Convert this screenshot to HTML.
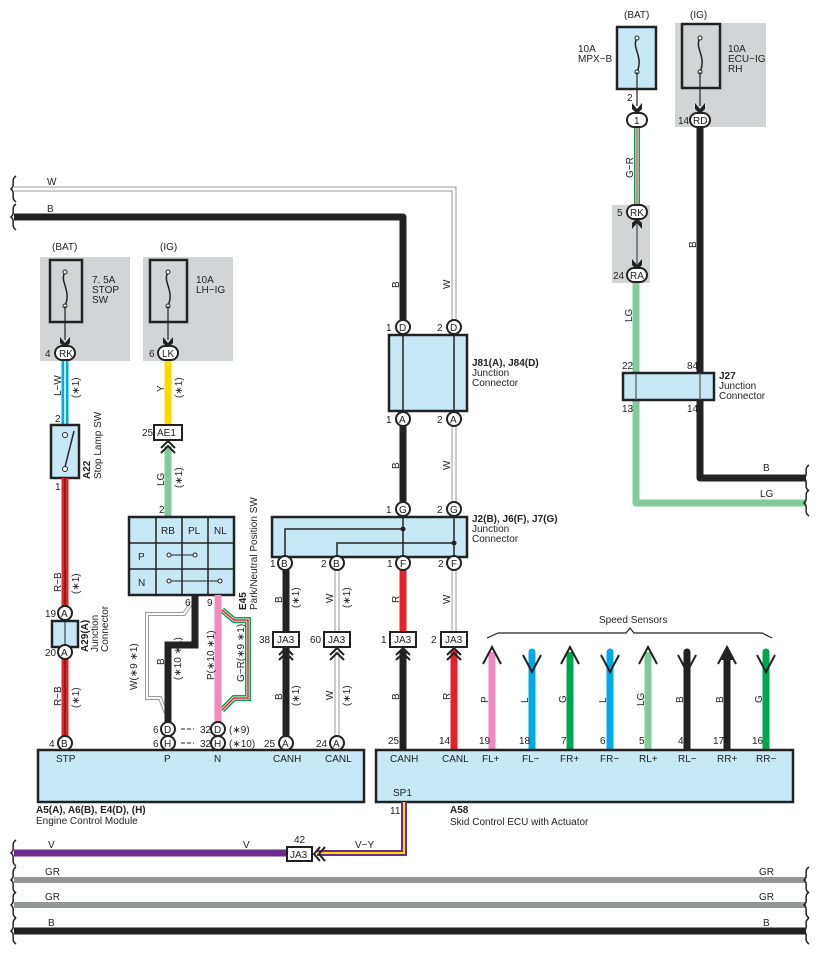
<!DOCTYPE html>
<html><head><meta charset="utf-8"><style>
html,body{margin:0;padding:0;background:#fff}
svg{display:block;font-family:"Liberation Sans",sans-serif}
text{font-size:10px;fill:#222}
.b{font-weight:bold}
.bx{fill:#c6e8f7;stroke:#222;stroke-width:2.5}
.pc{fill:#fff;stroke:#222;stroke-width:2}
.gy{fill:#d3d4d6}
</style></head><body>
<svg width="817" height="954" viewBox="0 0 817 954" xmlns="http://www.w3.org/2000/svg">
<defs>
<g id="brace"><path d="M3,-13 C-3,-9 3,-4 -2,0 C3,4 -3,9 3,13" fill="none" stroke="#222" stroke-width="1.5"/></g>
<g id="chev"><path d="M-7,4 L0,-3 L7,4 M-7,9 L0,2 L7,9" fill="none" stroke="#222" stroke-width="2"/></g>
</defs>

<path d="M14,189 H454 V327" fill="none" stroke="#999" stroke-width="5"/>
<path d="M14,189 H454 V327" fill="none" stroke="#fff" stroke-width="3"/>
<path d="M14,217 H403 V327" fill="none" stroke="#222" stroke-width="7" stroke-linejoin="round"/>
<use href="#brace" x="13" y="189"/><use href="#brace" x="13" y="217"/>
<text x="47" y="185">W</text><text x="47" y="212">B</text>

<rect class="gy" x="40" y="257" width="90" height="104"/>
<rect x="50" y="260" width="32" height="62" fill="none" stroke="#222" stroke-width="2.5"/>
<path d="M65,272 C59,282 72,290 65,306" fill="none" stroke="#222" stroke-width="1.5"/>
<circle cx="65" cy="272" r="2" fill="#fff" stroke="#222"/><circle cx="65" cy="306" r="2" fill="#fff" stroke="#222"/>
<line x1="65" y1="306" x2="65" y2="340" stroke="#222" stroke-width="1.2"/>
<path d="M60,337 L65,343 L70,337 L70,343 L65,348 L60,343Z" fill="#222"/>
<text x="52" y="250">(BAT)</text>
<text x="92" y="283">7. 5A</text><text x="92" y="293">STOP</text><text x="92" y="303">SW</text>
<rect class="gy" x="143" y="257" width="90" height="104"/>
<rect x="150" y="260" width="37" height="62" fill="none" stroke="#222" stroke-width="2.5"/>
<path d="M168,272 C162,282 175,290 168,306" fill="none" stroke="#222" stroke-width="1.5"/>
<circle cx="168" cy="272" r="2" fill="#fff" stroke="#222"/><circle cx="168" cy="306" r="2" fill="#fff" stroke="#222"/>
<line x1="168" y1="306" x2="168" y2="340" stroke="#222" stroke-width="1.2"/>
<path d="M163,337 L168,343 L173,337 L173,343 L168,348 L163,343Z" fill="#222"/>
<text x="160" y="250">(IG)</text>
<text x="196" y="283">10A</text><text x="196" y="293">LH−IG</text>

<line x1="65" y1="360" x2="65" y2="425" stroke="#00a9e8" stroke-width="7"/>
<line x1="65" y1="360" x2="65" y2="425" stroke="#fff" stroke-width="1.5"/>
<rect x="55" y="346" width="20" height="14" rx="7" class="pc"/><text x="59" y="357">RK</text><text x="45" y="357">4</text>
<text transform="translate(61,396) rotate(-90)">L−W</text><text transform="translate(79,398) rotate(-90)">(∗1)</text>
<text x="55" y="422">2</text>
<rect class="bx" x="51" y="425" width="28" height="53"/>
<circle cx="65" cy="435" r="2.5" fill="#fff" stroke="#222"/><circle cx="65" cy="469" r="2.5" fill="#fff" stroke="#222"/>
<line x1="65" y1="467" x2="74" y2="431" stroke="#222" stroke-width="1.5"/>
<text class="b" transform="translate(90,479) rotate(-90)">A22</text><text transform="translate(101,479) rotate(-90)">Stop Lamp SW</text>
<line x1="65" y1="478" x2="65" y2="743" stroke="#e8202a" stroke-width="7"/>
<line x1="65" y1="478" x2="65" y2="743" stroke="#222" stroke-width="1"/>
<text x="55" y="490">1</text>
<text transform="translate(61,592) rotate(-90)">R−B</text><text transform="translate(79,594) rotate(-90)">(∗1)</text>
<text transform="translate(61,706) rotate(-90)">R−B</text><text transform="translate(79,708) rotate(-90)">(∗1)</text>
<rect class="bx" x="52" y="621" width="26" height="26"/><line x1="65" y1="621" x2="65" y2="647" stroke="#222"/>
<circle class="pc" cx="65" cy="613" r="7"/><text x="61" y="617">A</text><text x="45" y="617">19</text>
<circle class="pc" cx="65" cy="652" r="7"/><text x="61" y="656">A</text><text x="45" y="656">20</text>
<text class="b" transform="translate(88,652) rotate(-90)">A29(A)</text><text transform="translate(98,652) rotate(-90)">Junction</text><text transform="translate(108,652) rotate(-90)">Connector</text>

<line x1="168" y1="360" x2="168" y2="425" stroke="#ffd800" stroke-width="7"/>
<rect x="158" y="346" width="20" height="14" rx="7" class="pc"/><text x="162" y="357">LK</text><text x="149" y="357">6</text>
<text transform="translate(164,392) rotate(-90)">Y</text><text transform="translate(182,398) rotate(-90)">(∗1)</text>
<line x1="168" y1="446" x2="168" y2="517" stroke="#7fcb9b" stroke-width="7"/>
<rect x="154" y="425" width="28" height="15" fill="#fff" stroke="#222" stroke-width="2"/><text x="157" y="436">AE1</text><text x="142" y="436">25</text>
<use href="#chev" x="168" y="444"/>
<text transform="translate(164,486) rotate(-90)">LG</text><text transform="translate(182,488) rotate(-90)">(∗1)</text>
<text x="159" y="513">2</text>

<rect class="bx" x="129" y="517" width="105" height="78"/>
<path d="M156,517V595M182,517V595M208,517V595M129,543H234M129,569H234" stroke="#222" stroke-width="1.5"/>
<text x="161" y="534">RB</text><text x="188" y="534">PL</text><text x="214" y="534">NL</text>
<text x="138" y="560">P</text><text x="138" y="586">N</text>
<line x1="169" y1="555" x2="195" y2="555" stroke="#222"/><circle cx="169" cy="555" r="2" fill="#fff" stroke="#222"/><circle cx="195" cy="555" r="2" fill="#fff" stroke="#222"/>
<line x1="169" y1="581" x2="220" y2="581" stroke="#222"/><circle cx="169" cy="581" r="2" fill="#fff" stroke="#222"/><circle cx="220" cy="581" r="2" fill="#fff" stroke="#222"/>
<text class="b" transform="translate(246,610) rotate(-90)">E45</text><text transform="translate(257,610) rotate(-90)">Park/Neutral Position SW</text>
<path d="M192,602 L184,614 H147 V698 H160 L168,718" fill="none" stroke="#999" stroke-width="4"/>
<path d="M192,602 L184,614 H147 V698 H160 L168,718" fill="none" stroke="#fff" stroke-width="2"/>
<path d="M195,595 V645 H168 V728" fill="none" stroke="#222" stroke-width="7"/>
<path d="M222,610 L234,620 H248 V698 H234 L222,710" fill="none" stroke="#00a651" stroke-width="6"/>
<path d="M222,610 L234,620 H248 V698 H234 L222,710" fill="none" stroke="#fff" stroke-width="3"/>
<path d="M222,610 L234,620 H248 V698 H234 L222,710" fill="none" stroke="#e8202a" stroke-width="1.5"/>
<line x1="218" y1="595" x2="218" y2="722" stroke="#f28bbd" stroke-width="7"/>
<text x="185" y="606">6</text><text x="207" y="606">9</text>
<text transform="translate(164,665) rotate(-90)">B</text><text transform="translate(181,680) rotate(-90)">(∗10 ∗1)</text>
<text transform="translate(137,690) rotate(-90)">W(∗9 ∗1)</text>
<text transform="translate(214,680) rotate(-90)">P(∗10 ∗1)</text>
<text transform="translate(244,682) rotate(-90)">G−R(∗9 ∗1)</text>
<circle class="pc" cx="168" cy="729" r="7"/><text x="164" y="733">D</text><text x="153" y="733">6</text>
<circle class="pc" cx="168" cy="743" r="7"/><text x="164" y="747">H</text><text x="153" y="747">6</text>
<circle class="pc" cx="218" cy="729" r="7"/><text x="214" y="733">D</text><text x="200" y="733">32</text><text x="229" y="733">(∗9)</text>
<circle class="pc" cx="218" cy="743" r="7"/><text x="214" y="747">H</text><text x="200" y="747">32</text><text x="229" y="747">(∗10)</text>
<path d="M181,729H194M181,743H194" stroke="#222" stroke-dasharray="4,2"/>

<line x1="286" y1="563" x2="286" y2="743" stroke="#222" stroke-width="7"/>
<line x1="337" y1="563" x2="337" y2="743" stroke="#999" stroke-width="5"/><line x1="337" y1="563" x2="337" y2="743" stroke="#fff" stroke-width="3"/>
<rect x="273" y="632" width="26" height="15" fill="#fff" stroke="#222" stroke-width="2"/><text x="277" y="643">JA3</text><text x="259" y="643">38</text>
<rect x="324" y="632" width="26" height="15" fill="#fff" stroke="#222" stroke-width="2"/><text x="328" y="643">JA3</text><text x="310" y="643">60</text>
<use href="#chev" x="286" y="651"/><use href="#chev" x="337" y="651"/>
<text transform="translate(282,603) rotate(-90)">B</text><text transform="translate(299,608) rotate(-90)">(∗1)</text>
<text transform="translate(333,603) rotate(-90)">W</text><text transform="translate(350,608) rotate(-90)">(∗1)</text>
<text transform="translate(282,700) rotate(-90)">B</text><text transform="translate(299,706) rotate(-90)">(∗1)</text>
<text transform="translate(333,700) rotate(-90)">W</text><text transform="translate(350,706) rotate(-90)">(∗1)</text>
<circle class="pc" cx="286" cy="743" r="7"/><text x="282" y="747">A</text><text x="264" y="747">25</text>
<circle class="pc" cx="337" cy="743" r="7"/><text x="333" y="747">A</text><text x="316" y="747">24</text>
<circle class="pc" cx="65" cy="743" r="7"/><text x="61" y="747">B</text><text x="49" y="747">4</text>

<rect class="bx" x="38" y="750" width="326" height="52"/>
<text x="56" y="762">STP</text><text x="164" y="762">P</text><text x="214" y="762">N</text><text x="273" y="762">CANH</text><text x="325" y="762">CANL</text>
<text class="b" x="36" y="813">A5(A), A6(B), E4(D), (H)</text><text x="36" y="824">Engine Control Module</text>

<rect class="bx" x="389" y="335" width="78" height="76"/>
<path d="M403,335V411M454,335V411" stroke="#222" stroke-width="1.5"/>
<circle class="pc" cx="403" cy="327" r="7"/><text x="399" y="331">D</text><text x="386" y="331">1</text>
<circle class="pc" cx="454" cy="327" r="7"/><text x="450" y="331">D</text><text x="437" y="331">2</text>
<text class="b" x="472" y="366">J81(A), J84(D)</text><text x="472" y="376">Junction</text><text x="472" y="386">Connector</text>
<text transform="translate(399,288) rotate(-90)">B</text><text transform="translate(450,289) rotate(-90)">W</text>
<line x1="403" y1="420" x2="403" y2="509" stroke="#222" stroke-width="7"/>
<line x1="454" y1="420" x2="454" y2="509" stroke="#999" stroke-width="5"/><line x1="454" y1="420" x2="454" y2="509" stroke="#fff" stroke-width="3"/>
<circle class="pc" cx="403" cy="419" r="7"/><text x="399" y="423">A</text><text x="386" y="423">1</text>
<circle class="pc" cx="454" cy="419" r="7"/><text x="450" y="423">A</text><text x="437" y="423">2</text>
<text transform="translate(399,469) rotate(-90)">B</text><text transform="translate(450,470) rotate(-90)">W</text>

<rect class="bx" x="272" y="517" width="195" height="40"/>
<path d="M403,517V557M454,517V557M403,529H285V557M454,543H337V557" fill="none" stroke="#222" stroke-width="1.5"/>
<circle cx="403" cy="529" r="2.5" fill="#222"/><circle cx="454" cy="543" r="2.5" fill="#222"/>
<circle class="pc" cx="403" cy="509" r="7"/><text x="399" y="513">G</text><text x="386" y="513">1</text>
<circle class="pc" cx="454" cy="509" r="7"/><text x="450" y="513">G</text><text x="437" y="513">2</text>
<text class="b" x="472" y="522">J2(B), J6(F), J7(G)</text><text x="472" y="532">Junction</text><text x="472" y="542">Connector</text>

<line x1="403" y1="563" x2="403" y2="632" stroke="#e8202a" stroke-width="7"/>
<line x1="403" y1="650" x2="403" y2="750" stroke="#222" stroke-width="7"/>
<line x1="454" y1="563" x2="454" y2="632" stroke="#999" stroke-width="5"/><line x1="454" y1="563" x2="454" y2="632" stroke="#fff" stroke-width="3"/>
<line x1="454" y1="650" x2="454" y2="750" stroke="#e8202a" stroke-width="7"/>
<circle class="pc" cx="285" cy="563" r="7"/><text x="281" y="567">B</text><text x="270" y="567">1</text>
<circle class="pc" cx="337" cy="563" r="7"/><text x="333" y="567">B</text><text x="321" y="567">2</text>
<circle class="pc" cx="403" cy="563" r="7"/><text x="400" y="567">F</text><text x="387" y="567">1</text>
<circle class="pc" cx="454" cy="563" r="7"/><text x="451" y="567">F</text><text x="438" y="567">2</text>
<text transform="translate(399,603) rotate(-90)">R</text><text transform="translate(450,604) rotate(-90)">W</text>
<rect x="390" y="632" width="26" height="15" fill="#fff" stroke="#222" stroke-width="2"/><text x="394" y="643">JA3</text><text x="381" y="643">1</text>
<rect x="441" y="632" width="26" height="15" fill="#fff" stroke="#222" stroke-width="2"/><text x="445" y="643">JA3</text><text x="431" y="643">2</text>
<use href="#chev" x="403" y="651"/><use href="#chev" x="454" y="651"/>
<text transform="translate(399,700) rotate(-90)">B</text><text transform="translate(450,700) rotate(-90)">R</text>
<text x="388" y="744">25</text><text x="439" y="744">14</text>

<path d="M487,638 L498,633 H626 L630,628 L634,633 H762 L772,638" fill="none" stroke="#222" stroke-width="1.2"/>
<text x="599" y="623">Speed Sensors</text>
<g stroke-width="7">
<line x1="492" y1="652" x2="492" y2="750" stroke="#f28bbd"/>
<line x1="532" y1="652" x2="532" y2="750" stroke="#00a9e8" stroke-linecap="round"/>
<line x1="570" y1="652" x2="570" y2="750" stroke="#00a651"/>
<line x1="610" y1="652" x2="610" y2="750" stroke="#00a9e8" stroke-linecap="round"/>
<line x1="648" y1="652" x2="648" y2="750" stroke="#7fcb9b"/>
<line x1="687" y1="652" x2="687" y2="750" stroke="#222" stroke-linecap="round"/>
<line x1="727" y1="652" x2="727" y2="750" stroke="#222"/>
<line x1="766" y1="652" x2="766" y2="750" stroke="#00a651" stroke-linecap="round"/>
</g>
<g fill="none" stroke="#222" stroke-width="2">
<path d="M483,664 L492,647 L501,664"/><path d="M523,655 L532,672 L541,655"/>
<path d="M561,664 L570,647 L579,664"/><path d="M601,655 L610,672 L619,655"/>
<path d="M639,664 L648,647 L657,664"/><path d="M678,655 L687,672 L696,655"/>
<path d="M718,664 L727,647 L736,664"/><path d="M757,655 L766,672 L775,655"/>
</g>
<path d="M721,660 L727,648 L733,660Z" fill="#222"/>
<text transform="translate(488,703) rotate(-90)">P</text><text transform="translate(528,703) rotate(-90)">L</text>
<text transform="translate(566,703) rotate(-90)">G</text><text transform="translate(606,703) rotate(-90)">L</text>
<text transform="translate(644,706) rotate(-90)">LG</text><text transform="translate(683,703) rotate(-90)">B</text>
<text transform="translate(723,703) rotate(-90)">B</text><text transform="translate(762,703) rotate(-90)">G</text>
<text x="479" y="744">19</text><text x="519" y="744">18</text><text x="561" y="744">7</text><text x="600" y="744">6</text>
<text x="639" y="744">5</text><text x="678" y="744">4</text><text x="713" y="744">17</text><text x="752" y="744">16</text>

<rect class="bx" x="376" y="750" width="417" height="52"/>
<text x="390" y="762">CANH</text><text x="442" y="762">CANL</text><text x="482" y="762">FL+</text><text x="522" y="762">FL−</text>
<text x="560" y="762">FR+</text><text x="600" y="762">FR−</text><text x="639" y="762">RL+</text><text x="678" y="762">RL−</text>
<text x="717" y="762">RR+</text><text x="756" y="762">RR−</text>
<text x="393" y="796">SP1</text>
<text class="b" x="450" y="813">A58</text><text x="450" y="825">Skid Control ECU with Actuator</text>

<path d="M404,802 V853 H317" fill="none" stroke="#6e2c8e" stroke-width="6"/>
<path d="M404,802 V853 H317" fill="none" stroke="#ffd800" stroke-width="2"/>
<text x="390" y="814">11</text>
<line x1="14" y1="853" x2="287" y2="853" stroke="#6e2c8e" stroke-width="7"/>
<rect x="287" y="847" width="25" height="14" fill="#fff" stroke="#222" stroke-width="2"/><text x="290" y="858">JA3</text><text x="294" y="843">42</text>
<path d="M320,847 L314,854 L320,861 M325,847 L319,854 L325,861" fill="none" stroke="#222" stroke-width="2"/>
<text x="48" y="848">V</text><text x="243" y="848">V</text><text x="355" y="848">V−Y</text>
<line x1="14" y1="880" x2="806" y2="880" stroke="#939598" stroke-width="6"/>
<line x1="14" y1="905" x2="806" y2="905" stroke="#939598" stroke-width="6"/>
<line x1="14" y1="931" x2="806" y2="931" stroke="#222" stroke-width="7"/>
<text x="45" y="875">GR</text><text x="45" y="900">GR</text><text x="48" y="926">B</text>
<text x="759" y="875">GR</text><text x="759" y="900">GR</text><text x="763" y="926">B</text>
<use href="#brace" x="13" y="853"/><use href="#brace" x="13" y="880"/><use href="#brace" x="13" y="905"/><use href="#brace" x="13" y="931"/>
<use href="#brace" x="806" y="880"/><use href="#brace" x="806" y="905"/><use href="#brace" x="806" y="931"/>

<rect class="gy" x="675" y="23" width="91" height="104"/>
<rect x="617" y="27" width="39" height="62" fill="#c6e8f7" stroke="#222" stroke-width="2.5"/>
<path d="M637,38 C631,48 644,56 637,72" fill="none" stroke="#222" stroke-width="1.5"/>
<circle cx="637" cy="38" r="2" fill="#fff" stroke="#222"/><circle cx="637" cy="72" r="2" fill="#fff" stroke="#222"/>
<line x1="637" y1="72" x2="637" y2="106" stroke="#222" stroke-width="1.2"/>
<path d="M632,103 L637,109 L642,103 L642,109 L637,114 L632,109Z" fill="#222"/>
<text x="624" y="18">(BAT)</text><text x="578" y="52">10A</text><text x="578" y="62">MPX−B</text><text x="627" y="101">2</text>
<rect x="682" y="24" width="38" height="64" fill="none" stroke="#222" stroke-width="2.5"/>
<path d="M700,38 C694,48 707,56 700,72" fill="none" stroke="#222" stroke-width="1.5"/>
<circle cx="700" cy="38" r="2" fill="#fff" stroke="#222"/><circle cx="700" cy="72" r="2" fill="#fff" stroke="#222"/>
<line x1="700" y1="72" x2="700" y2="106" stroke="#222" stroke-width="1.2"/>
<path d="M695,103 L700,109 L705,103 L705,109 L700,114 L695,109Z" fill="#222"/>
<text x="690" y="18">(IG)</text><text x="728" y="52">10A</text><text x="728" y="62">ECU−IG</text><text x="728" y="72">RH</text>
<line x1="637" y1="127" x2="637" y2="205" stroke="#00a651" stroke-width="6"/>
<line x1="637" y1="127" x2="637" y2="205" stroke="#fff" stroke-width="3"/>
<line x1="637" y1="127" x2="637" y2="205" stroke="#e8202a" stroke-width="1.2"/>
<rect x="627" y="113" width="20" height="14" rx="7" class="pc"/><text x="634" y="124">1</text>
<text transform="translate(633,178) rotate(-90)">G−R</text>
<rect class="gy" x="612" y="205" width="38" height="78"/>
<rect x="627" y="205" width="20" height="14" rx="7" class="pc"/><text x="630" y="216">RK</text><text x="617" y="216">5</text>
<line x1="637" y1="222" x2="637" y2="265" stroke="#444" stroke-width="1.2"/>
<path d="M632,229 L637,223 L642,229 L642,223 L637,218 L632,223Z" fill="#222"/>
<path d="M632,259 L637,265 L642,259 L642,265 L637,270 L632,265Z" fill="#222"/>
<rect x="627" y="268" width="20" height="14" rx="7" class="pc"/><text x="630" y="279">RA</text><text x="613" y="279">24</text>
<path d="M636,283 V503 H806" fill="none" stroke="#7fcb9b" stroke-width="7" stroke-linejoin="round"/>
<path d="M700,127 V478 H806" fill="none" stroke="#222" stroke-width="7" stroke-linejoin="round"/>
<rect x="690" y="113" width="20" height="14" rx="7" class="pc"/><text x="693" y="124">RD</text><text x="678" y="124">14</text>
<text transform="translate(632,322) rotate(-90)">LG</text><text transform="translate(696,248) rotate(-90)">B</text>
<rect class="bx" x="623" y="373" width="91" height="27"/>
<path d="M636,373V400M700,373V400" stroke="#555" stroke-width="1.2"/>
<text x="622" y="369">22</text><text x="687" y="369">84</text><text x="622" y="412">13</text><text x="687" y="412">14</text>
<text class="b" x="719" y="379">J27</text><text x="719" y="389">Junction</text><text x="719" y="399">Connector</text>
<text x="763" y="471">B</text><text x="760" y="497">LG</text>
<use href="#brace" x="806" y="478"/><use href="#brace" x="806" y="503"/>
</svg>
</body></html>
